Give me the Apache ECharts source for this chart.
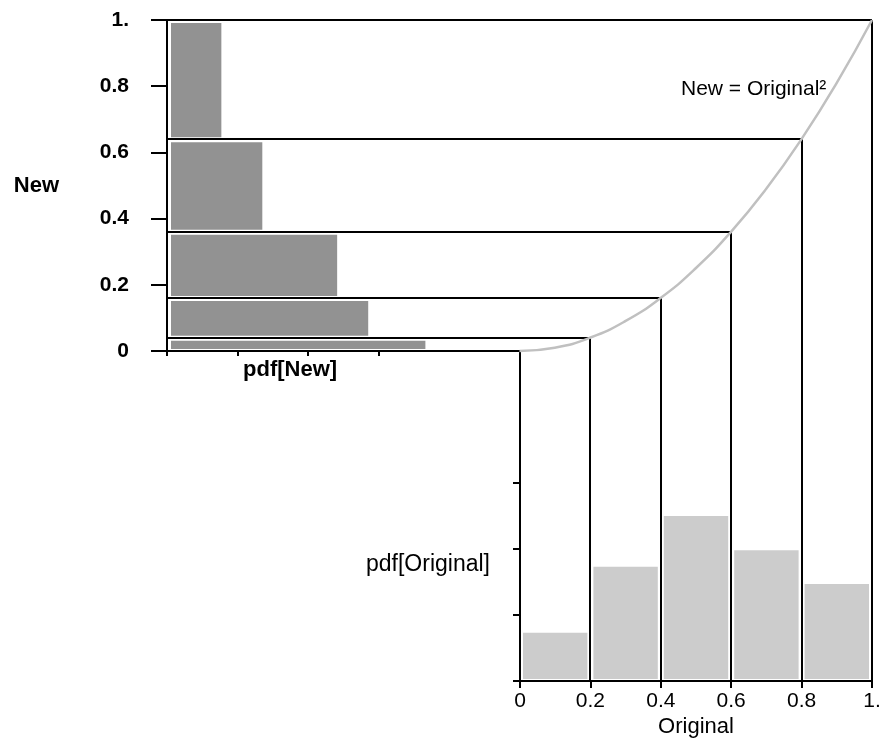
<!DOCTYPE html>
<html>
<head>
<meta charset="utf-8">
<script src="https://cdn.jsdelivr.net/npm/echarts@6/dist/echarts.min.js"></script>
<style>
  html, body { margin: 0; padding: 0; background: #fff; }
  #chart { width: 880px; height: 742px; }
</style>
</head>
<body>
<div id="chart"></div>
<script>
// bin edges: Original and New = Original^2
const origEdges = [0, 0.2, 0.4, 0.6, 0.8, 1];
const newEdges = [0, 0.04, 0.16, 0.36, 0.64, 1];
// histogram heights
const pdfOriginal = [0.73, 1.73, 2.5, 1.98, 1.47];
const pdfNew = [3.66, 2.85, 2.41, 1.35, 0.77];
// points on the curve New = Original^2
const curveOrig = [0, 0.1, 0.2, 0.3, 0.4, 0.5, 0.6, 0.7, 0.8, 0.9, 1];
const curveNew = [0, 0.01, 0.04, 0.09, 0.16, 0.25, 0.36, 0.49, 0.64, 0.81, 1];
const newTicks = [0, 0.2, 0.4, 0.6, 0.8, 1];
const origTicks = [0, 0.2, 0.4, 0.6, 0.8, 1];

const FONT = 'Liberation Sans';

const myChart = echarts.init(document.getElementById('chart'));

// box lines linking the two histograms through the curve
const guideLines = [];
for (let i = 1; i < origEdges.length; i++) {
  guideLines.push({ coords: [[-1, newEdges[i]], [origEdges[i], newEdges[i]]] });
  guideLines.push({ coords: [[origEdges[i], newEdges[i]], [origEdges[i], -1]] });
}

const newBars = pdfNew.map((v, i) => [newEdges[i], newEdges[i + 1], v]);
const origBars = pdfOriginal.map((v, i) => [origEdges[i], origEdges[i + 1], v]);

const option = {
  animation: false,
  backgroundColor: '#fff',
  textStyle: { fontFamily: FONT },
  grid: [
    // overlay: x = Original (-1..1), y = New (-1..1)
    { left: 167, top: 20, width: 705, height: 662, outerBoundsMode: 'none' },
    // top-left: pdf[New] horizontal bars
    { left: 167, top: 20, width: 353, height: 331, outerBoundsMode: 'none' },
    // bottom-right: pdf[Original]
    { left: 520, top: 351, width: 352, height: 330, outerBoundsMode: 'none' }
  ],
  xAxis: [
    { gridIndex: 0, type: 'value', min: -1, max: 1, show: false },
    {
      gridIndex: 1, type: 'value', min: 0, max: 5,
      axisLine: { show: true, onZero: false, lineStyle: { color: '#000', width: 2 } },
      axisTick: { show: true, length: 5, customValues: [0, 1, 2, 3], lineStyle: { color: '#000', width: 2 } },
      axisLabel: { show: false },
      splitLine: { show: false }
    },
    {
      gridIndex: 2, type: 'value', min: 0, max: 1, interval: 0.2,
      name: 'Original', nameLocation: 'middle', nameGap: 35,
      nameTextStyle: { fontFamily: FONT, fontSize: 22, color: '#000' },
      axisLine: { show: true, onZero: false, lineStyle: { color: '#000', width: 2 } },
      axisTick: { show: true, length: 7, lineStyle: { color: '#000', width: 2 } },
      axisLabel: {
        show: true, margin: 10, fontFamily: FONT, fontSize: 21, color: '#000',
        customValues: origTicks,
        formatter: v => (v === 1 ? '1.' : String(v))
      },
      splitLine: { show: false }
    }
  ],
  yAxis: [
    { gridIndex: 0, type: 'value', min: -1, max: 1, show: false },
    {
      gridIndex: 1, type: 'value', min: 0, max: 1, interval: 0.2,
      name: 'New', nameLocation: 'middle', nameGap: 108, nameRotate: 0,
      nameTextStyle: { fontFamily: FONT, fontSize: 22, fontWeight: 'bold', color: '#000' },
      axisLine: { show: true, onZero: false, lineStyle: { color: '#000', width: 2 } },
      axisTick: { show: true, length: 16, lineStyle: { color: '#000', width: 2 } },
      axisLabel: {
        show: true, margin: 38, fontFamily: FONT, fontSize: 21, fontWeight: 'bold', color: '#000',
        customValues: newTicks,
        formatter: v => (v === 1 ? '1.' : String(v))
      },
      splitLine: { show: false }
    },
    {
      gridIndex: 2, type: 'value', min: 0, max: 5,
      axisLine: { show: true, onZero: false, lineStyle: { color: '#000', width: 2 } },
      axisTick: { show: true, length: 7, customValues: [0, 1, 2, 3], lineStyle: { color: '#000', width: 2 } },
      axisLabel: { show: false },
      splitLine: { show: false }
    }
  ],
  graphic: [
    {
      type: 'text', left: 243, top: 359,
      style: { text: 'pdf[New]', fontFamily: FONT, fontSize: 22, fontWeight: 'bold', fill: '#000' }
    },
    {
      type: 'text', left: 366, top: 553,
      style: { text: 'pdf[Original]', fontFamily: FONT, fontSize: 23, fill: '#000' }
    },
    {
      type: 'text', left: 681, top: 79,
      style: { text: 'New = Original²', fontFamily: FONT, fontSize: 21, fill: '#000' }
    }
  ],
  series: [
    {
      type: 'custom',
      xAxisIndex: 1, yAxisIndex: 1,
      encode: { x: 2, y: [0, 1] },
      data: newBars,
      renderItem: function (params, api) {
        const lo = api.value(0), hi = api.value(1), v = api.value(2);
        const a = api.coord([0, hi]);
        const b = api.coord([v, lo]);
        return {
          type: 'rect',
          shape: { x: a[0] + 4, y: a[1] + 3, width: b[0] - a[0] - 4, height: b[1] - a[1] - 5 },
          style: { fill: '#929292' }
        };
      }
    },
    {
      type: 'custom',
      xAxisIndex: 2, yAxisIndex: 2,
      encode: { x: [0, 1], y: 2 },
      data: origBars,
      renderItem: function (params, api) {
        const lo = api.value(0), hi = api.value(1), v = api.value(2);
        const a = api.coord([lo, v]);
        const b = api.coord([hi, 0]);
        return {
          type: 'rect',
          shape: { x: a[0] + 3, y: a[1], width: b[0] - a[0] - 6, height: b[1] - a[1] - 2 },
          style: { fill: '#cccccc' }
        };
      }
    },
    {
      type: 'lines',
      coordinateSystem: 'cartesian2d',
      xAxisIndex: 0, yAxisIndex: 0,
      data: guideLines,
      lineStyle: { color: '#000', width: 2, opacity: 1, curveness: 0 },
      z: 3
    },
    {
      type: 'line',
      xAxisIndex: 0, yAxisIndex: 0,
      data: curveOrig.map((x, i) => [x, curveNew[i]]),
      smooth: true,
      showSymbol: false,
      lineStyle: { color: '#c0c0c0', width: 2.5 },
      z: 4
    }
  ]
};

myChart.setOption(option);
</script>
</body>
</html>
